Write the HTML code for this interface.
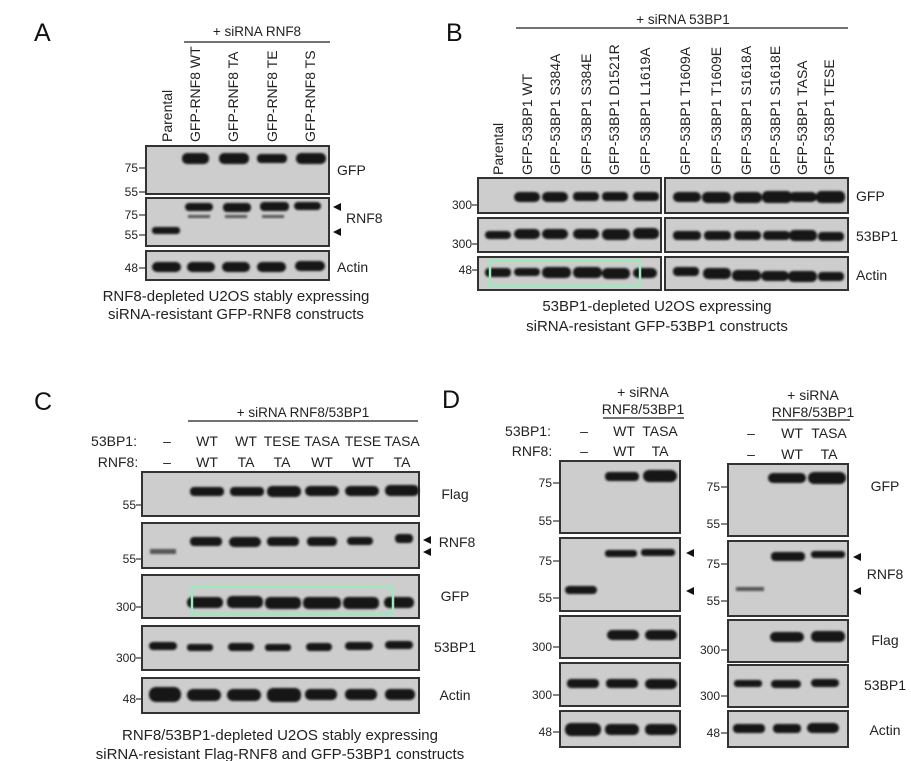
<!DOCTYPE html>
<html><head><meta charset="utf-8"><style>
html,body{margin:0;padding:0;background:#fff;}
svg{display:block;font-family:"Liberation Sans",Arial,sans-serif;}
.bl{fill:#cdcdcd;stroke:#333;stroke-width:2}
.b{fill:#151515;stroke:#151515;stroke-width:2;filter:url(#f)}
.fb{fill:#555;filter:url(#f)}
.t{font-size:13.5px;fill:#222}
.r{font-size:14px;fill:#222}
.c{font-size:15px;fill:#222}
.s{font-size:12px;fill:#222}
.L{font-size:25px;fill:#111}
.tk{stroke:#333;stroke-width:1.2}
.gb{fill:none;stroke:#9ee8bd;stroke-width:2.5}
</style></head><body>
<svg width="911" height="761" viewBox="0 0 911 761" xmlns="http://www.w3.org/2000/svg">
<defs><filter id="f" x="-20%" y="-50%" width="140%" height="200%"><feGaussianBlur stdDeviation="1"/></filter></defs>

<!-- Panel A -->
<text class="L" x="34" y="41">A</text>
<text class="t" x="257" y="36" text-anchor="middle">+ siRNA RNF8</text>
<line x1="184" y1="42" x2="330" y2="42" stroke="#444" stroke-width="1.5"/>
<g class="r">
<text transform="translate(172,142) rotate(-90)">Parental</text>
<text transform="translate(200,142) rotate(-90)">GFP-RNF8 WT</text>
<text transform="translate(238,142) rotate(-90)">GFP-RNF8 TA</text>
<text transform="translate(277,142) rotate(-90)">GFP-RNF8 TE</text>
<text transform="translate(315,142) rotate(-90)">GFP-RNF8 TS</text>
</g>
<rect class="bl" x="146" y="146" width="183" height="48"/>
<rect class="bl" x="146" y="198" width="183" height="48"/>
<rect class="bl" x="146" y="251" width="183" height="29"/>
<g class="b">
<rect x="183" y="154" width="25" height="9" rx="4"/><rect x="220" y="154" width="28" height="9" rx="4"/><rect x="258" y="155" width="28" height="7" rx="3"/><rect x="297" y="154" width="28" height="9" rx="4"/>
<rect x="186" y="204" width="26" height="6" rx="3"/><rect x="224" y="204" width="26" height="7" rx="3"/><rect x="261" y="203" width="27" height="7" rx="3"/><rect x="295" y="203" width="25" height="6" rx="3"/>
<rect x="153" y="228" width="26" height="5" rx="2"/>
<rect x="153" y="263" width="27" height="8" rx="4"/><rect x="188" y="263" width="26" height="8" rx="4"/><rect x="223" y="263" width="26" height="8" rx="4"/><rect x="258" y="263" width="27" height="8" rx="4"/><rect x="296" y="262" width="28" height="8" rx="4"/>
</g>
<g class="fb"><rect x="188" y="215" width="22" height="3"/><rect x="225" y="215" width="22" height="3"/><rect x="262" y="215" width="22" height="3"/></g>
<g class="s" text-anchor="end"><text x="138" y="172">75</text><text x="138" y="196">55</text><text x="138" y="219">75</text><text x="138" y="239">55</text><text x="138" y="272">48</text></g>
<g class="tk"><line x1="139" y1="168" x2="146" y2="168"/><line x1="139" y1="192" x2="146" y2="192"/><line x1="139" y1="215" x2="146" y2="215"/><line x1="139" y1="235" x2="146" y2="235"/><line x1="139" y1="268" x2="146" y2="268"/></g>
<g class="r"><text x="337" y="175">GFP</text><text x="346" y="223">RNF8</text><text x="337" y="272">Actin</text></g>
<polygon points="333,207 341,203 341,211" fill="#111"/><polygon points="333,232 341,228 341,236" fill="#111"/>
<g class="c" text-anchor="middle"><text x="236" y="301">RNF8-depleted U2OS stably expressing</text><text x="236" y="319">siRNA-resistant GFP-RNF8 constructs</text></g>

<!-- Panel B -->
<text class="L" x="446" y="41">B</text>
<text class="t" x="683" y="24" text-anchor="middle">+ siRNA 53BP1</text>
<line x1="516" y1="28" x2="848" y2="28" stroke="#444" stroke-width="1.5"/>
<g class="r">
<text transform="translate(503,175) rotate(-90)">Parental</text>
<text transform="translate(532,175) rotate(-90)">GFP-53BP1 WT</text>
<text transform="translate(560,175) rotate(-90)">GFP-53BP1 S384A</text>
<text transform="translate(591,175) rotate(-90)">GFP-53BP1 S384E</text>
<text transform="translate(619,175) rotate(-90)">GFP-53BP1 D1521R</text>
<text transform="translate(650,175) rotate(-90)">GFP-53BP1 L1619A</text>
<text transform="translate(690,175) rotate(-90)">GFP-53BP1 T1609A</text>
<text transform="translate(721,175) rotate(-90)">GFP-53BP1 T1609E</text>
<text transform="translate(751,175) rotate(-90)">GFP-53BP1 S1618A</text>
<text transform="translate(780,175) rotate(-90)">GFP-53BP1 S1618E</text>
<text transform="translate(807,175) rotate(-90)">GFP-53BP1 TASA</text>
<text transform="translate(834,175) rotate(-90)">GFP-53BP1 TESE</text>
</g>
<rect class="bl" x="478" y="178" width="183" height="35"/><rect class="bl" x="665" y="178" width="183" height="35"/>
<rect class="bl" x="478" y="218" width="183" height="34"/><rect class="bl" x="665" y="218" width="183" height="34"/>
<rect class="bl" x="478" y="257" width="183" height="33"/><rect class="bl" x="665" y="257" width="183" height="33"/>
<g class="b">
<rect x="515" y="193" width="24" height="8" rx="4"/><rect x="543" y="193" width="24" height="8" rx="4"/><rect x="574" y="193" width="24" height="7" rx="3"/><rect x="603" y="193" width="24" height="7" rx="3"/><rect x="634" y="193" width="24" height="7" rx="3"/>
<rect x="674" y="193" width="26" height="8" rx="4"/><rect x="703" y="193" width="27" height="9" rx="4"/><rect x="734" y="193" width="27" height="9" rx="4"/><rect x="763" y="192" width="28" height="10" rx="4"/><rect x="790" y="193" width="26" height="8" rx="4"/><rect x="817" y="192" width="27" height="10" rx="4"/>
<rect x="486" y="232" width="24" height="6" rx="3"/><rect x="515" y="230" width="24" height="8" rx="4"/><rect x="543" y="230" width="24" height="8" rx="4"/><rect x="574" y="230" width="24" height="8" rx="4"/><rect x="603" y="230" width="26" height="9" rx="4"/><rect x="634" y="229" width="24" height="9" rx="4"/>
<rect x="674" y="232" width="26" height="7" rx="3"/><rect x="705" y="232" width="25" height="7" rx="3"/><rect x="735" y="232" width="25" height="7" rx="3"/><rect x="764" y="232" width="25" height="7" rx="3"/><rect x="790" y="231" width="26" height="9" rx="4"/><rect x="819" y="233" width="24" height="7" rx="3"/>
<rect x="486" y="269" width="24" height="7" rx="3"/><rect x="515" y="269" width="24" height="6" rx="3"/><rect x="543" y="268" width="27" height="9" rx="4"/><rect x="574" y="268" width="27" height="9" rx="4"/><rect x="603" y="269" width="26" height="9" rx="4"/><rect x="634" y="269" width="22" height="8" rx="4"/>
<rect x="674" y="268" width="24" height="7" rx="3"/><rect x="704" y="269" width="26" height="9" rx="4"/><rect x="733" y="271" width="27" height="9" rx="4"/><rect x="762" y="272" width="26" height="8" rx="4"/><rect x="789" y="272" width="27" height="9" rx="4"/><rect x="819" y="273" width="24" height="7" rx="3"/>
</g>
<rect class="gb" x="490" y="261" width="150" height="25"/>
<g class="s" text-anchor="end"><text x="472" y="209">300</text><text x="472" y="248">300</text><text x="472" y="274">48</text></g>
<g class="tk"><line x1="472" y1="205" x2="478" y2="205"/><line x1="472" y1="244" x2="478" y2="244"/><line x1="472" y1="270" x2="478" y2="270"/></g>
<g class="r"><text x="856" y="201">GFP</text><text x="856" y="241">53BP1</text><text x="856" y="280">Actin</text></g>
<g class="c" text-anchor="middle"><text x="657" y="311">53BP1-depleted U2OS expressing</text><text x="657" y="331">siRNA-resistant GFP-53BP1 constructs</text></g>

<!-- Panel C -->
<text class="L" x="34" y="410">C</text>
<text class="t" x="303" y="417" text-anchor="middle">+ siRNA RNF8/53BP1</text>
<line x1="188" y1="421" x2="418" y2="421" stroke="#444" stroke-width="1.5"/>
<g class="r" text-anchor="middle">
<text x="114" y="446">53BP1:</text><text x="118" y="467">RNF8:</text>
<text x="167" y="446">–</text><text x="207" y="446">WT</text><text x="246" y="446">WT</text><text x="282" y="446">TESE</text><text x="322" y="446">TASA</text><text x="363" y="446">TESE</text><text x="402" y="446">TASA</text>
<text x="167" y="467">–</text><text x="207" y="467">WT</text><text x="246" y="467">TA</text><text x="282" y="467">TA</text><text x="322" y="467">WT</text><text x="363" y="467">WT</text><text x="402" y="467">TA</text>
</g>
<rect class="bl" x="142" y="472" width="277" height="44"/>
<rect class="bl" x="142" y="523" width="277" height="45"/>
<rect class="bl" x="142" y="575" width="277" height="43"/>
<rect class="bl" x="142" y="626" width="277" height="44"/>
<rect class="bl" x="142" y="678" width="277" height="35"/>
<g class="b">
<rect x="191" y="488" width="32" height="7" rx="3"/><rect x="231" y="488" width="32" height="7" rx="3"/><rect x="268" y="487" width="32" height="9" rx="4"/><rect x="306" y="487" width="32" height="8" rx="4"/><rect x="346" y="487" width="32" height="8" rx="4"/><rect x="386" y="486" width="32" height="9" rx="4"/>
<rect x="191" y="538" width="30" height="7" rx="3"/><rect x="230" y="538" width="30" height="8" rx="4"/><rect x="268" y="538" width="30" height="7" rx="3"/><rect x="308" y="538" width="28" height="7" rx="3"/><rect x="348" y="538" width="24" height="6" rx="3"/><rect x="396" y="535" width="16" height="7" rx="3"/>
<rect x="188" y="598" width="34" height="9" rx="4"/><rect x="228" y="597" width="34" height="10" rx="4"/><rect x="266" y="598" width="34" height="10" rx="4"/><rect x="304" y="598" width="36" height="10" rx="4"/><rect x="344" y="598" width="34" height="10" rx="4"/><rect x="385" y="598" width="28" height="9" rx="4"/>
<rect x="150" y="643" width="26" height="6" rx="3"/><rect x="188" y="645" width="24" height="5" rx="2"/><rect x="229" y="644" width="24" height="6" rx="3"/><rect x="266" y="645" width="24" height="5" rx="2"/><rect x="307" y="644" width="24" height="6" rx="3"/><rect x="346" y="643" width="26" height="6" rx="3"/><rect x="386" y="642" width="26" height="6" rx="3"/>
<rect x="150" y="688" width="30" height="13" rx="6"/><rect x="188" y="690" width="32" height="10" rx="5"/><rect x="228" y="690" width="32" height="10" rx="5"/><rect x="268" y="689" width="32" height="12" rx="5"/><rect x="306" y="690" width="30" height="9" rx="4"/><rect x="346" y="690" width="30" height="9" rx="4"/><rect x="386" y="690" width="28" height="9" rx="4"/>
</g>
<rect class="fb" x="150" y="549" width="26" height="5"/>
<rect class="gb" x="192" y="587" width="201" height="27"/>
<g class="s" text-anchor="end"><text x="136" y="509">55</text><text x="136" y="563">55</text><text x="136" y="611">300</text><text x="136" y="662">300</text><text x="136" y="703">48</text></g>
<g class="tk"><line x1="136" y1="505" x2="142" y2="505"/><line x1="136" y1="559" x2="142" y2="559"/><line x1="136" y1="607" x2="142" y2="607"/><line x1="136" y1="658" x2="142" y2="658"/><line x1="136" y1="699" x2="142" y2="699"/></g>
<g class="r" text-anchor="middle"><text x="455" y="499">Flag</text><text x="457" y="547">RNF8</text><text x="455" y="601">GFP</text><text x="455" y="652">53BP1</text><text x="455" y="700">Actin</text></g>
<polygon points="423,540 431,536 431,544" fill="#111"/><polygon points="423,552 431,548 431,556" fill="#111"/>
<g class="c" text-anchor="middle"><text x="280" y="740">RNF8/53BP1-depleted U2OS stably expressing</text><text x="280" y="759">siRNA-resistant Flag-RNF8 and GFP-53BP1 constructs</text></g>

<!-- Panel D -->
<text class="L" x="442" y="408">D</text>
<g class="r" text-anchor="middle">
<text x="643" y="397">+ siRNA</text><text x="643" y="414">RNF8/53BP1</text>
<text x="813" y="400">+ siRNA</text><text x="813" y="417">RNF8/53BP1</text>
<text x="528" y="436">53BP1:</text><text x="532" y="456">RNF8:</text>
<text x="584" y="436">–</text><text x="624" y="436">WT</text><text x="660" y="436">TASA</text>
<text x="584" y="456">–</text><text x="624" y="456">WT</text><text x="660" y="456">TA</text>
<text x="751" y="438">–</text><text x="792" y="438">WT</text><text x="829" y="438">TASA</text>
<text x="751" y="459">–</text><text x="792" y="459">WT</text><text x="829" y="459">TA</text>
</g>
<line x1="603" y1="418" x2="684" y2="418" stroke="#444" stroke-width="1.5"/>
<line x1="772" y1="420" x2="850" y2="420" stroke="#444" stroke-width="1.5"/>
<rect class="bl" x="560" y="461" width="120" height="72"/>
<rect class="bl" x="560" y="538" width="120" height="73"/>
<rect class="bl" x="560" y="616" width="120" height="42"/>
<rect class="bl" x="560" y="663" width="120" height="43"/>
<rect class="bl" x="560" y="711" width="120" height="36"/>
<rect class="bl" x="728" y="464" width="120" height="72"/>
<rect class="bl" x="728" y="541" width="120" height="75"/>
<rect class="bl" x="728" y="620" width="120" height="42"/>
<rect class="bl" x="728" y="665" width="120" height="42"/>
<rect class="bl" x="728" y="711" width="120" height="36"/>
<g class="b">
<rect x="606" y="473" width="32" height="7" rx="3"/><rect x="644" y="471" width="32" height="10" rx="5"/>
<rect x="606" y="551" width="30" height="5" rx="2"/><rect x="642" y="550" width="32" height="5" rx="2"/>
<rect x="566" y="587" width="30" height="6" rx="3"/>
<rect x="608" y="631" width="30" height="8" rx="4"/><rect x="646" y="631" width="30" height="8" rx="4"/>
<rect x="568" y="680" width="30" height="7" rx="3"/><rect x="607" y="680" width="30" height="7" rx="3"/><rect x="646" y="680" width="30" height="8" rx="4"/>
<rect x="566" y="724" width="34" height="11" rx="5"/><rect x="606" y="725" width="32" height="9" rx="4"/><rect x="646" y="725" width="30" height="9" rx="4"/>
<rect x="769" y="474" width="36" height="8" rx="4"/><rect x="809" y="473" width="36" height="10" rx="5"/>
<rect x="772" y="553" width="32" height="7" rx="3"/><rect x="812" y="552" width="32" height="5" rx="2"/>
<rect x="771" y="633" width="32" height="8" rx="4"/><rect x="812" y="632" width="32" height="9" rx="4"/>
<rect x="735" y="681" width="26" height="5" rx="2"/><rect x="772" y="681" width="28" height="6" rx="3"/><rect x="812" y="680" width="26" height="6" rx="3"/>
<rect x="734" y="725" width="30" height="7" rx="3"/><rect x="774" y="725" width="26" height="7" rx="3"/><rect x="808" y="724" width="30" height="8" rx="4"/>
</g>
<rect class="fb" x="736" y="587" width="28" height="4"/>
<g class="s" text-anchor="end">
<text x="552" y="487">75</text><text x="552" y="525">55</text><text x="552" y="565">75</text><text x="552" y="602">55</text><text x="552" y="651">300</text><text x="552" y="699">300</text><text x="552" y="736">48</text>
<text x="720" y="491">75</text><text x="720" y="528">55</text><text x="720" y="568">75</text><text x="720" y="605">55</text><text x="720" y="654">300</text><text x="720" y="700">300</text><text x="720" y="737">48</text>
</g>
<g class="tk">
<line x1="553" y1="483" x2="560" y2="483"/><line x1="553" y1="521" x2="560" y2="521"/><line x1="553" y1="561" x2="560" y2="561"/><line x1="553" y1="598" x2="560" y2="598"/><line x1="553" y1="647" x2="560" y2="647"/><line x1="553" y1="695" x2="560" y2="695"/><line x1="553" y1="732" x2="560" y2="732"/>
<line x1="721" y1="487" x2="728" y2="487"/><line x1="721" y1="524" x2="728" y2="524"/><line x1="721" y1="564" x2="728" y2="564"/><line x1="721" y1="601" x2="728" y2="601"/><line x1="721" y1="650" x2="728" y2="650"/><line x1="721" y1="696" x2="728" y2="696"/><line x1="721" y1="733" x2="728" y2="733"/>
</g>
<polygon points="686,553 694,549 694,557" fill="#111"/><polygon points="686,591 694,587 694,595" fill="#111"/>
<polygon points="853,557 861,553 861,561" fill="#111"/><polygon points="853,591 861,587 861,595" fill="#111"/>
<g class="r" text-anchor="middle"><text x="885" y="491">GFP</text><text x="885" y="579">RNF8</text><text x="885" y="645">Flag</text><text x="885" y="690">53BP1</text><text x="885" y="735">Actin</text></g>
</svg>
</body></html>
